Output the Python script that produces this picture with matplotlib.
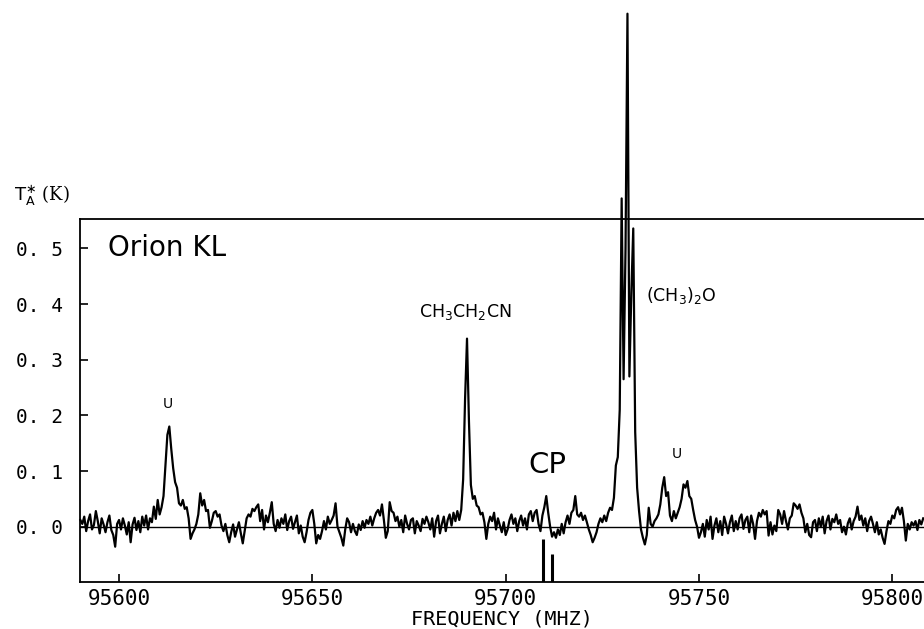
import numpy as np
import matplotlib
matplotlib.use("Agg")
import matplotlib.pyplot as plt

# spectrum, Orion KL, channels of 0.5 MHz starting at 95590 MHz, values in mK
f_start = 95590.0
f_step = 0.5
ta_mk = [
    12, 5, 18, -8, 10, 22, -5, 3, 28, 10, -12, 15, 4, -10, 8, 20, -6, -15, -36, 5,          # 95590
    12, -5, 15, 2, -14, 8, -28, 4, 16, -6, 10, -10, 18, 2, 20, -5, 15, 8, 36, 14,           # 95600
    48, 22, 35, 55, 110, 165, 180, 140, 105, 80, 70, 42, 38, 48, 32, 35, 15, -22, -12, -5,  # 95610
    5, 22, 60, 38, 48, 28, 30, -2, 10, 25, 28, 18, 22, 2, -8, 5, -15, -28, -10, 4,          # 95620
    -18, -5, 8, -12, -30, -8, 15, 22, 18, 32, 28, 35, 40, 10, 30, -5, 20, 8, 25, 44,        # 95630
    5, -8, 12, -2, 15, 5, 22, -6, 10, 18, -4, 8, 20, -12, 2, -18, -28, -10, 12, 25,         # 95640
    30, 5, -30, -15, -22, -8, 10, -5, 18, 5, 12, 20, 42, 0, -10, -20, -34, -5, 15, 8,       # 95650
    -10, 5, -8, -15, 4, -6, 10, -2, 12, 5, 18, 2, 15, 25, 30, 20, 40, 12, -20, -8,          # 95660
    44, 28, 25, 10, 18, 0, 12, -10, 20, 5, -5, 12, 15, -12, 10, 2, -8, 14, 5, 18,           # 95670
    8, -5, 15, -18, 10, 20, -12, 5, 18, -8, 12, 22, 2, 25, 10, 28, 12, 30, 85, 230,         # 95680
    338, 190, 75, 50, 55, 38, 35, 22, 25, 8, -22, 5, 18, 10, 25, -5, 15, 2, -10, 8,         # 95690
    -15, -5, 12, 22, 5, 15, -8, 10, 20, 2, 15, -5, 22, 28, 10, 25, 30, 5, -8, 20,           # 95700
    35, 55, 25, 0, -18, -10, -20, -5, -15, 5, -12, 8, 20, 5, 25, 30, 55, 22, 18, 25,        # 95710
    12, 20, 8, -5, -15, -28, -20, -10, 5, 15, 8, 20, 10, 25, 34, 30, 52, 110, 125, 210,     # 95720
    590, 265, 500, 922, 270, 420, 536, 170, 70, 28, -5, -20, -32, -15, 34, 5, 0, 10, 15, 22,  # 95730
    40, 70, 89, 55, 62, 20, 10, 28, 15, 25, 35, 50, 76, 70, 82, 55, 50, 30, 12, 0,          # 95740
    -20, -10, 5, -18, 12, -5, 18, -22, 2, 15, -10, 10, -15, 18, 5, -12, 8, 20, -8, 10,      # 95750
    -5, 15, 22, -4, 12, 18, -10, 20, 5, -22, 10, 25, 18, 30, 22, 28, -16, 8, -14, 2,        # 95760
    -8, 30, 22, 5, 28, 10, -5, 15, 20, 42, 38, 32, 40, 25, 15, -10, 5, -15, -19, 8,         # 95770
    12, -8, 15, 0, 18, -12, 10, 20, -5, 14, 8, 22, 5, 12, -10, 0, -14, 6, 15, -5,           # 95780
    10, 18, 36, 12, 20, 2, 15, -8, 10, 18, 5, -10, 8, -14, -5, -20, -31, -8, 10, 5,         # 95790
    20, 15, 30, 35, 22, 34, 10, -25, 5, -5, 8, 2, 10, -6, 12, 4, 15,                        # 95800
]

# CP marker bars (MHz, top value in K)
cp_freq = [95709.6, 95711.9]
cp_top = [-0.022, -0.049]

# line labels: (text, freq, T, size, ha)
labels = [
    ("Orion KL", 95597.2, 0.500, 20, "left"),
    ("U", 95612.7, 0.220, 10, "center"),
    ("CH$_3$CH$_2$CN", 95689.5, 0.385, 12.5, "center"),
    ("(CH$_3$)$_2$O", 95736.3, 0.416, 12.5, "left"),
    ("CP", 95710.7, 0.111, 21, "center"),
    ("U", 95744.3, 0.131, 10, "center"),
]

x_ticks = [95600, 95650, 95700, 95750, 95800]
y_ticks = [0.0, 0.1, 0.2, 0.3, 0.4, 0.5]
y_ticklabels = ["0. 0", "0. 1", "0. 2", "0. 3", "0. 4", "0. 5"]

freq = f_start + f_step * np.arange(len(ta_mk))
ta = np.array(ta_mk) / 1000.0

W, H = 924, 629
fig = plt.figure(figsize=(W / 100, H / 100), dpi=100)
ax = fig.add_axes([80 / W, (H - 582.3) / H, (W - 80) / W, (582.3 - 219) / H])

ax.plot(freq, ta, color="black", lw=1.6, clip_on=False, zorder=3)
ax.axhline(0, color="black", lw=1.0, zorder=2)
ax.vlines(cp_freq, -0.1, cp_top, color="black", lw=2.2)

ax.set_xlim(95589.9, 95808.2)
ax.set_ylim(-0.1, 0.553)

for s in ["left", "bottom", "top"]:
    ax.spines[s].set_linewidth(1.3)
ax.spines["right"].set_visible(False)

mono = "DejaVu Sans Mono"
ax.set_xticks(x_ticks)
ax.set_xticklabels([str(t) for t in x_ticks], fontfamily=mono, fontsize=15)
ax.set_yticks(y_ticks)
ax.set_yticklabels(y_ticklabels, fontfamily=mono, fontsize=14)
ax.tick_params(axis="x", direction="in", length=6, width=1.2, pad=5)
ax.tick_params(axis="y", direction="in", length=6, width=1.2, pad=12)
ax.set_xlabel("FREQUENCY (MHZ)", fontfamily=mono, fontsize=14.5, labelpad=0)

for txt, fx, fy, size, ha in labels:
    ax.text(fx, fy, txt, fontsize=size, ha=ha, va="center", clip_on=False)

fig.text(14 / W, 1 - 196 / H, r"$\mathrm{T_A^{\ast}}$ (K)", fontfamily="DejaVu Serif",
         fontsize=13, ha="left", va="center")

fig.savefig("out.png", dpi=100, facecolor="white")
